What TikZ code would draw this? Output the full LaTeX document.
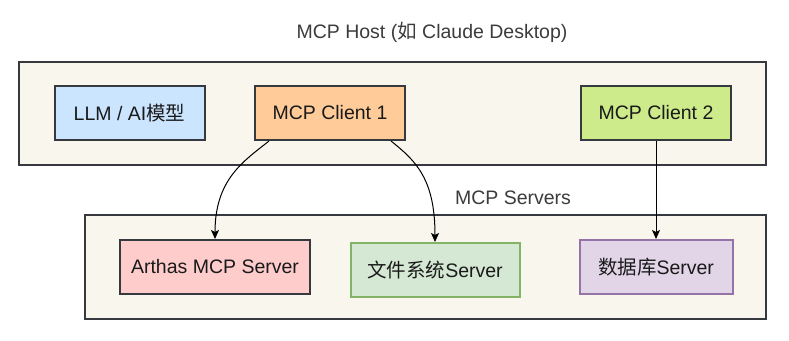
\documentclass[tikz,border=0pt]{standalone}
\usepackage{fontspec}
\setmainfont{Liberation Sans}
\newfontfamily\cjk{Noto Sans CJK SC}
\usetikzlibrary{arrows.meta,calc}
\definecolor{cont}{HTML}{F9F7ED}
\definecolor{contline}{HTML}{36393D}
\definecolor{llmfill}{HTML}{CCE5FF}
\definecolor{c1fill}{HTML}{FFCC99}
\definecolor{c2fill}{HTML}{CDEB8B}
\definecolor{arfill}{HTML}{FFCCCC}
\definecolor{fsfill}{HTML}{D5E8D4}
\definecolor{fsline}{HTML}{82B366}
\definecolor{dbfill}{HTML}{E1D5E7}
\definecolor{dbline}{HTML}{9673A6}
\definecolor{txt}{HTML}{1A1A1A}
\tikzset{
  container/.style={draw=contline, fill=cont, line width=2pt},
  box/.style={draw=contline, line width=2pt, minimum width=150pt, minimum height=54pt, inner sep=0pt, font=\fontsize{19.5}{22}\selectfont, text=txt},
  title/.style={font=\fontsize{19.5}{22}\selectfont, text=txt!85!white},
  conn/.style={line width=1pt, -{Stealth[length=9pt,width=8pt,inset=2pt]}}
}
\begin{document}
\begin{tikzpicture}[x=1pt,y=-1pt]
\useasboundingbox (0,0) rectangle (789,340);
\fill[white] (0,0) rectangle (789,340);
% containers
\node[container, minimum width=747pt, minimum height=103pt, inner sep=0pt] (host) at (392.5,113) {};
\node[container, minimum width=681pt, minimum height=104pt, inner sep=0pt] (servers) at (425,267) {};
\node[title] (hostlbl) at (432,32) {MCP Host ({\cjk 如} Claude Desktop)};
\node[title] (srvlbl) at (513,198) {MCP Servers};
% host nodes
\node[box, fill=llmfill] (llm) at (129.5,113) {LLM / AI{\cjk 模型}};
\node[box, fill=c1fill] (c1) at (330,113) {MCP Client 1};
\node[box, fill=c2fill] (c2) at (656,113) {MCP Client 2};
% server nodes
\node[box, fill=arfill, minimum width=190pt] (ar) at (215,267) {Arthas MCP Server};
\node[box, fill=fsfill, draw=fsline, minimum width=169pt] (fs) at (435,270) {{\cjk 文件系统}Server};
\node[box, fill=dbfill, draw=dbline, minimum width=153pt] (db) at (656,267) {{\cjk 数据库}Server};
% connectors
\draw[conn] ([xshift=15pt]c1.south west) .. controls ([xshift=-10pt,yshift=-20pt]c1.south west) and ([yshift=60pt]ar.north) .. (ar.north);
\draw[conn] ([xshift=-15pt]c1.south east) .. controls ([xshift=10pt,yshift=-20pt]c1.south east) and ([yshift=63pt]fs.north) .. (fs.north);
\draw[conn] (c2.south) -- (db.north);
\end{tikzpicture}
\end{document}
